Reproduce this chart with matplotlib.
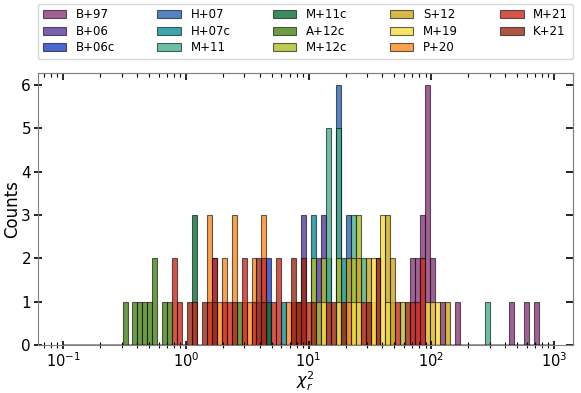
import numpy as np
import matplotlib
matplotlib.use("Agg")
import matplotlib.pyplot as plt
from matplotlib.colors import to_rgb

# ---- data: reduced chi-square values per study ----
names = ["B+97", "B+06", "B+06c", "H+07", "H+07c", "M+11", "M+11c",
         "A+12c", "M+12c", "S+12", "M+19", "P+20", "M+21", "K+21"]

B97 = [70.5, 70.5, 77.4, 77.4, 85.0, 85.0, 85.0, 93.3, 93.3, 93.3, 93.3, 93.3, 93.3,
       102.4, 102.4, 123.3, 163.0, 453.0, 600.0, 722.0]
B06 = [9.11, 9.11, 9.11, 12.0, 12.0, 13.2, 13.2, 13.2]
B06c = [1.71, 1.71, 4.75, 4.75]
H07 = [17.5, 17.5, 17.5, 17.5, 17.5, 17.5, 21.0, 21.0, 21.0]
H07c = [6.28, 11.0, 11.0, 11.0, 14.5, 14.5, 19.2, 19.2]
M11 = [14.5, 14.5, 14.5, 14.5, 14.5, 17.5, 17.5, 17.5, 17.5, 17.5,
       23.1, 23.1, 23.1, 27.8, 27.8, 285.0]
M11c = [1.18, 1.18, 1.18, 4.75]
A12c = [0.32, 0.385, 0.423, 0.464, 0.51, 0.559, 0.559, 0.673, 0.739, 2.72]
M12c = [11.0, 11.0, 12.0, 13.2, 13.2, 17.5, 17.5, 23.1, 23.1, 25.4, 25.4, 25.4, 48.6, 58.6]
S12 = [21.0, 21.0, 25.4, 25.4, 30.5, 30.5, 33.5, 44.3, 44.3, 44.3, 48.6, 48.6, 135.0]
M19 = [13.2, 17.5, 23.1, 25.4, 33.5, 33.5, 40.4, 40.4, 40.4, 44.3, 93.3, 102.4, 112.3]
P20 = [1.555, 1.555, 1.555, 1.87, 2.06, 2.06, 2.48, 2.48, 2.48, 2.98, 3.28, 3.59, 3.59,
       4.33, 4.33, 4.33, 6.89, 21.0, 36.8, 36.8]
M21 = [0.811, 0.811, 0.89, 1.18, 1.555, 1.71, 1.71, 2.06, 2.26, 2.98, 2.98, 3.59, 3.95,
       4.33, 4.33, 5.21, 5.72, 5.72, 7.57, 8.30, 9.11, 10.0, 14.5, 27.8, 53.4,
       70.5, 77.4, 85.0, 85.0]
K21 = [1.07, 1.42, 1.71, 2.48, 3.95, 3.95, 4.33, 7.57, 7.57, 8.30, 9.11, 9.11,
       11.0, 15.9, 19.2, 30.5, 36.8, 36.8, 64.3]

series = [B97, B06, B06c, H07, H07c, M11, M11c, A12c, M12c, S12, M19, P20, M21, K21]

colors = ["#8a3a7c", "#5a3aa0", "#2040c8", "#2a64b4", "#0a9098", "#48b08e", "#0a7038",
          "#4a8418", "#b0be28", "#cca818", "#f6dc40", "#fc8a22", "#cc2a1e", "#9c2a12"]

bins = np.logspace(-1, 3, 100)

fig = plt.figure(figsize=(5.81, 3.93), dpi=100)
ax = fig.add_axes([0.0654, 0.122, 0.9208, 0.693])

for name, vals, col in zip(names, series, colors):
    ax.hist(vals, bins=bins, color=to_rgb(col) + (0.8,), edgecolor=(0, 0, 0, 0.6),
            linewidth=0.8, label=name)

ax.set_xscale("log")
ax.set_xlim(0.0625, 1426)
ax.set_ylim(0, 6.28)
ax.set_yticks(range(0, 7))

ax.tick_params(axis="both", which="major", direction="inout", length=6, width=1.2,
               labelsize=11, pad=2)
ax.tick_params(axis="x", which="major", labelsize=10.5, pad=1.5)
ax.tick_params(axis="both", which="minor", direction="inout", length=4, width=0.8)

secx = ax.secondary_xaxis("top")
secx.tick_params(which="major", direction="in", length=5, width=1.2, labeltop=False)
secx.tick_params(which="minor", direction="in", length=3, width=0.8)
secy = ax.secondary_yaxis("right")
secy.set_yticks(range(0, 7))
secy.tick_params(direction="in", length=5, width=1.2, labelright=False)

for sp in list(ax.spines.values()) + list(secx.spines.values()) + list(secy.spines.values()):
    sp.set_color("0.5")

ax.set_xlabel(r"$\chi^2_r$", fontsize=11.5, labelpad=0)
ax.set_ylabel("Counts", fontsize=12, labelpad=0)

ax.legend(ncol=5, loc="lower left", bbox_to_anchor=(0, 1.05, 1, 0.2), mode="expand",
          fontsize=8.5, borderaxespad=0.0, labelspacing=0.3)

fig.savefig("out.png", dpi=100)
